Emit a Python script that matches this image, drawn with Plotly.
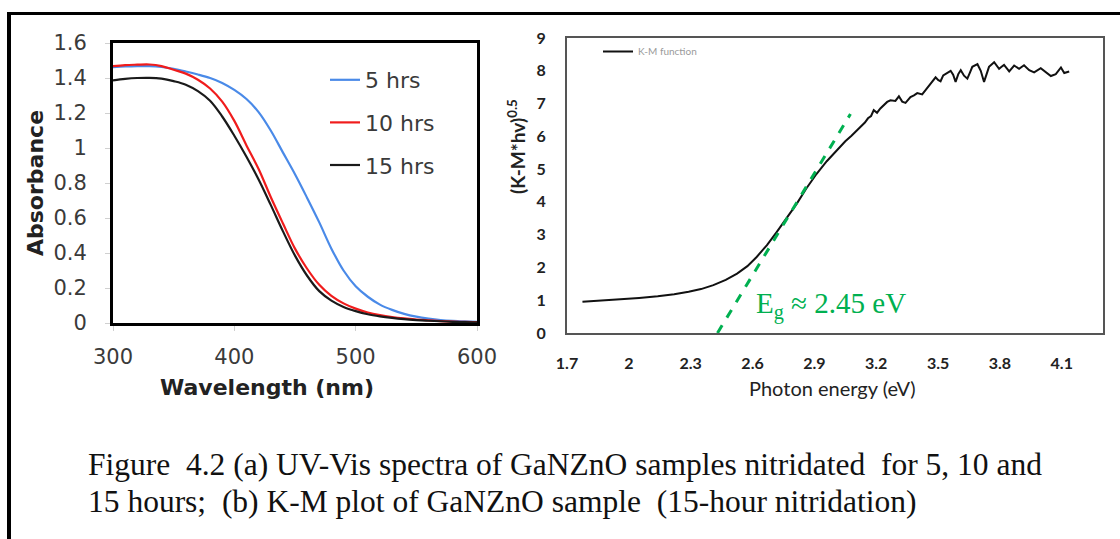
import plotly.graph_objects as go

W, H = 1120, 539

# ---------------- data: panel (a) UV-Vis ----------------
wavelength = [300, 310, 320, 330, 340, 350, 360, 370, 380, 390, 400, 410, 420, 430, 440,
              450, 460, 470, 480, 490, 500, 510, 520, 530, 540, 550, 560, 570, 580, 590, 600]
abs_5h = [1.462, 1.466, 1.468, 1.468, 1.463, 1.452, 1.437, 1.420, 1.400, 1.372, 1.332, 1.280,
          1.205, 1.100, 0.975, 0.850, 0.715, 0.575, 0.425, 0.300, 0.210, 0.150, 0.105, 0.075,
          0.052, 0.036, 0.025, 0.017, 0.012, 0.009, 0.007]
abs_10h = [1.468, 1.474, 1.476, 1.477, 1.468, 1.447, 1.425, 1.390, 1.340, 1.265, 1.155, 1.015,
           0.880, 0.720, 0.570, 0.425, 0.310, 0.218, 0.155, 0.112, 0.082, 0.060, 0.045, 0.034,
           0.026, 0.020, 0.015, 0.011, 0.008, 0.006, 0.005]
abs_15h = [1.386, 1.395, 1.400, 1.401, 1.396, 1.382, 1.362, 1.325, 1.270, 1.180, 1.070, 0.950,
           0.820, 0.675, 0.525, 0.385, 0.270, 0.182, 0.128, 0.092, 0.068, 0.050, 0.038, 0.029,
           0.022, 0.017, 0.013, 0.010, 0.007, 0.005, 0.004]
series_names = ["5 hrs", "10 hrs", "15 hrs"]
series_colors = ["#4a8ae8", "#f01c1c", "#1a1a1a"]

# ---------------- data: panel (b) K-M plot ----------------
photon_ev = [1.775, 1.85, 1.95, 2.05, 2.14, 2.22, 2.29, 2.35, 2.41, 2.47, 2.525, 2.575, 2.62, 2.67,
             2.717, 2.765, 2.814, 2.86, 2.91, 2.96, 3.006, 3.05, 3.08, 3.105, 3.125, 3.145, 3.16,
             3.175, 3.188, 3.204, 3.22, 3.237, 3.253, 3.269, 3.293, 3.31, 3.326, 3.342, 3.366,
             3.383, 3.399, 3.423, 3.447, 3.46, 3.472, 3.488, 3.50, 3.512, 3.525, 3.537, 3.561,
             3.573, 3.585, 3.598, 3.610, 3.626, 3.642, 3.655, 3.666, 3.691, 3.707, 3.723, 3.735,
             3.747, 3.772, 3.796, 3.808, 3.820, 3.845, 3.869, 3.893, 3.917, 3.942, 3.966, 3.998,
             4.023, 4.047, 4.071, 4.096, 4.112, 4.136]
km_value = [0.95, 0.98, 1.02, 1.07, 1.12, 1.18, 1.26, 1.34, 1.46, 1.62, 1.81, 2.04, 2.32, 2.68,
            3.08, 3.50, 3.94, 4.40, 4.85, 5.24, 5.56, 5.85, 6.02, 6.18, 6.32, 6.42, 6.55, 6.62,
            6.80, 6.72, 6.85, 6.95, 7.05, 7.10, 7.08, 7.22, 7.06, 7.02, 7.20, 7.25, 7.32, 7.28,
            7.48, 7.60, 7.68, 7.80, 7.72, 7.68, 7.86, 7.90, 8.00, 7.88, 7.66, 7.90, 8.02, 7.85,
            7.76, 7.95, 8.12, 8.20, 8.00, 7.66, 7.90, 8.12, 8.26, 8.06, 8.12, 8.18, 7.98, 8.16,
            8.06, 8.17, 8.02, 7.95, 8.08, 7.97, 7.84, 7.90, 8.10, 7.93, 7.98]
tangent_ev = [2.43, 3.075]
tangent_val = [0.0, 6.68]
ev_ticks = [1.7, 2.0, 2.3, 2.6, 2.9, 3.2, 3.5, 3.8, 4.1]
ev_ticktext = ["1.7", "2", "2.3", "2.6", "2.9", "3.2", "3.5", "3.8", "4.1"]

caption_1 = "Figure  4.2 (a) UV-Vis spectra of GaNZnO samples nitridated  for 5, 10 and"
caption_2 = "15 hours;  (b) K-M plot of GaNZnO sample  (15-hour nitridation)"


def px_x(p):
    return p / W


def px_y(p):
    return 1 - p / H


fig = go.Figure()

for i, (name, vals, col) in enumerate(zip(series_names, [abs_5h, abs_10h, abs_15h], series_colors)):
    fig.add_trace(go.Scatter(x=wavelength, y=vals, mode="lines", name=name,
                             line=dict(color=col, width=2.2, shape="spline"),
                             legendgroup="g%d" % i, legend="legend",
                             xaxis="x", yaxis="y"))

fig.add_trace(go.Scatter(x=photon_ev, y=km_value, mode="lines", name="K-M function",
                         line=dict(color="#111111", width=2), legend="legend2",
                         xaxis="x2", yaxis="y2"))
fig.add_trace(go.Scatter(x=tangent_ev, y=tangent_val, mode="lines", showlegend=False,
                         line=dict(color="#00b050", width=3, dash="dash"),
                         xaxis="x2", yaxis="y2"))

left_font = dict(family="DejaVu Sans", size=21, color="#3a3a3a")
right_tick_font = dict(family="Lato", size=16, color="#222222", weight="bold")

fig.update_layout(
    template="none",
    width=W, height=H, autosize=False,
    margin=dict(l=0, r=0, t=0, b=0, pad=0),
    paper_bgcolor="white", plot_bgcolor="white",
    xaxis=dict(domain=[px_x(113), px_x(477)], range=[300, 600], tickvals=[300, 400, 500, 600],
               showline=True, mirror=True, linecolor="black", linewidth=3,
               showgrid=False, zeroline=False, ticks="outside", ticklen=5,
               tickcolor="#d0d0d0", tickfont=left_font, ticklabelstandoff=8,
               automargin=False, anchor="y"),
    yaxis=dict(domain=[px_y(323), px_y(43)], range=[0, 1.6], dtick=0.2,
               showline=True, mirror=True, linecolor="black", linewidth=3,
               showgrid=False, zeroline=False, ticks="outside", ticklen=5,
               tickcolor="#d0d0d0", tickfont=left_font, ticklabelstandoff=14,
               automargin=False, anchor="x"),
    xaxis2=dict(domain=[px_x(567), px_x(1103)], range=[1.7, 4.3], tickvals=ev_ticks,
                ticktext=ev_ticktext, showline=True, mirror=True, linecolor="#555555",
                linewidth=2, showgrid=False, zeroline=False, ticks="",
                tickfont=right_tick_font, ticklabelstandoff=15, automargin=False,
                anchor="y2"),
    yaxis2=dict(domain=[px_y(333), px_y(38)], range=[0, 9], dtick=1,
                showline=True, mirror=True, linecolor="#555555", linewidth=2,
                showgrid=False, zeroline=False, ticks="", tickfont=right_tick_font,
                ticklabelstandoff=16, automargin=False, anchor="x2"),
    legend=dict(x=px_x(325), y=px_y(59), xanchor="left", yanchor="top",
                font=dict(family="DejaVu Sans", size=22, color="#3a3a3a"),
                bgcolor="rgba(0,0,0,0)", borderwidth=0, tracegroupgap=11,
                itemwidth=30),
    legend2=dict(x=px_x(598), y=px_y(37), xanchor="left", yanchor="top",
                 font=dict(family="Lato", size=10, color="#9a9a9a"),
                 bgcolor="rgba(0,0,0,0)", borderwidth=0),
    showlegend=True,
)

annotations = [
    dict(text="<b>Absorbance</b>", x=px_x(35), y=px_y(183), textangle=-90,
         font=dict(family="DejaVu Sans", size=22, color="#222222")),
    dict(text="<b>Wavelength (nm)</b>", x=px_x(267), y=px_y(387),
         font=dict(family="DejaVu Sans", size=22, color="#222222")),
    dict(text="<b>(K-M*hv)<sup>0.5</sup></b>", x=px_x(516), y=px_y(147), textangle=-90,
         font=dict(family="Lato", size=19, color="#222222")),
    dict(text="Photon energy (eV)", x=px_x(832), y=px_y(388),
         font=dict(family="Lato", size=20, color="#222222")),
    dict(text="E<sub>g</sub> \u2248 2.45 eV", x=px_x(754), y=px_y(305), xanchor="left",
         font=dict(family="Liberation Serif", size=29, color="#00b050")),
    dict(text=caption_1, x=px_x(86), y=px_y(464), xanchor="left",
         font=dict(family="Liberation Serif", size=31.5, color="#111111")),
    dict(text=caption_2, x=px_x(86), y=px_y(501), xanchor="left",
         font=dict(family="Liberation Serif", size=31.5, color="#111111")),
]
for a in annotations:
    a.update(xref="paper", yref="paper", showarrow=False)
    a.setdefault("xanchor", "center")
    a.setdefault("yanchor", "middle")
fig.update_layout(annotations=annotations)

# outer frame of the figure (top and left edges)
fig.add_shape(type="line", xref="paper", yref="paper", x0=px_x(8), x1=1, y0=px_y(13.5), y1=px_y(13.5),
              line=dict(color="black", width=3))
fig.add_shape(type="line", xref="paper", yref="paper", x0=px_x(9), x1=px_x(9), y0=0, y1=px_y(12),
              line=dict(color="black", width=4))

fig.write_html("out.html")
